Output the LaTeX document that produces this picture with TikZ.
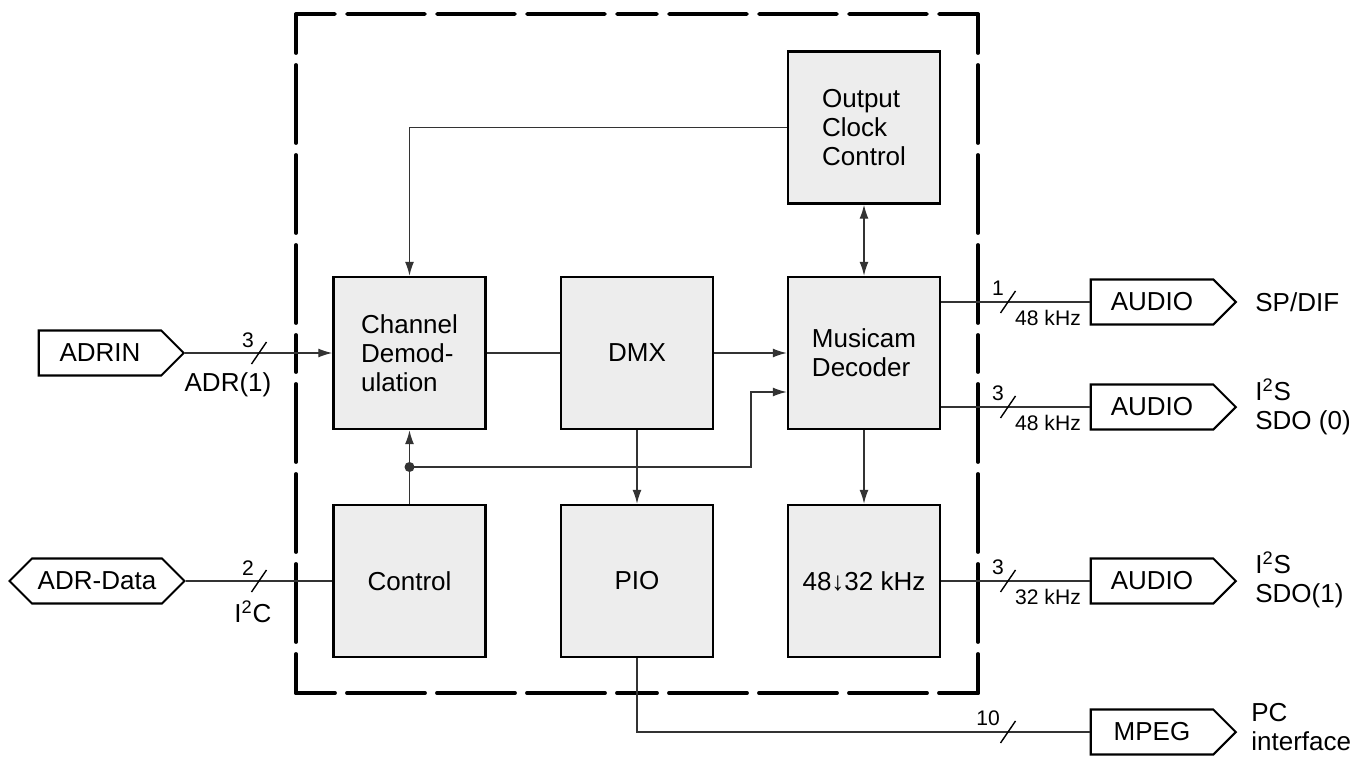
\documentclass[tikz,border=0pt]{standalone}
\usepackage{fontspec}
\setmainfont{Liberation Sans}
\usetikzlibrary{shapes.symbols,arrows.meta,calc}

\begin{document}
\begin{tikzpicture}[font=\fontsize{14.8}{16.5}\selectfont,
  box/.style={draw=black,line width=1.4pt,fill=black!7,align=left,minimum width=3.04cm,minimum height=3.04cm},
  port/.style={signal,signal to=east,signal pointer angle=90,draw=black,line width=1.2pt,minimum height=0.9cm,minimum width=2.9cm,inner sep=0pt},
  link/.style={black!80,line width=0.8pt},
  flow/.style={link,-{Latex[length=0.28cm,width=0.18cm]}},
  duplex/.style={link,{Latex[length=0.28cm,width=0.18cm]}-{Latex[length=0.28cm,width=0.18cm]}},
  frame/.style={line width=2.2pt,line cap=round,dash pattern=on 1.56cm off 0.24cm,dash phase=0.78cm},
  slash/.style={line width=0.8pt},
  num/.style={font=\fontsize{12}{14}\selectfont,inner sep=0pt},
  lab/.style={align=left,anchor=west,inner sep=0pt}]
\useasboundingbox (0,0) rectangle (27.24,15.14);

% chip boundary, each side drawn from its corners inwards
\coordinate (f1) at (5.92,14.86); \coordinate (f2) at (19.56,14.86);
\coordinate (f3) at (19.56,1.28); \coordinate (f4) at (5.92,1.28);
\foreach \a/\b in {f1/f2,f2/f3,f3/f4,f4/f1} {
  \draw[frame] (\a) -- ($(\a)!0.5!(\b)$);
  \draw[frame] (\b) -- ($(\a)!0.5!(\b)$);
}

% blocks
\node[box] (occ) at (17.28,12.59) {Output\\Clock\\Control};
\node[box] (cd) at (8.19,8.08) {Channel\\Demod-\\ulation};
\node[box,align=center] (dmx) at (12.74,8.08) {DMX};
\node[box] (mus) at (17.28,8.08) {Musicam\\Decoder};
\node[box,align=center] (ctl) at (8.19,3.52) {Control};
\node[box,align=center] (pio) at (12.74,3.52) {PIO};
\node[box,align=center] (rate) at (17.28,3.52) {48↓32 kHz};

% ports
\node[port] (adrin) at (2.0,8.08) {ADRIN};
\node[port,signal to=east and west,minimum width=3.5cm] (adrdata) at (1.94,3.52) {ADR-Data};
\node[port] (aud1) at (23.04,9.10) {AUDIO};
\node[port] (aud2) at (23.04,7.00) {AUDIO};
\node[port] (aud3) at (23.04,3.52) {AUDIO};
\node[port] (mpeg) at (23.04,0.50) {MPEG};

% internal paths
\coordinate (jn) at (8.19,5.80); \coordinate (m2) at ($(mus.west)+(0,-0.78)$);
\draw[flow] (occ.west) -| (cd.north);
\draw[duplex] (occ.south) -- (mus.north);
\draw[link] (cd.east) -- (dmx.west);
\draw[flow] (dmx.east) -- (mus.west);
\draw[flow] (ctl.north) -- (cd.south);
\draw[flow] (jn) -- (15.02,5.80) |- (m2);
\fill[black!80] (jn) circle (0.1);
\draw[flow] (dmx.south) -- (pio.north);
\draw[flow] (mus.south) -- (rate.north);

% external buses
\draw[flow] (adrin.east) -- (cd.west);
\draw[link] (adrdata.east) -- (ctl.west);
\draw[link] (aud1.west -| mus.east) -- (aud1.west);
\draw[link] (aud2.west -| mus.east) -- (aud2.west);
\draw[link] (rate.east) -- (aud3.west);
\draw[link] (pio.south) |- (mpeg.west);
\coordinate (s1) at (5.18,8.08); \coordinate (s2) at (5.18,3.52);
\coordinate (s3) at (20.16,9.10); \coordinate (s4) at (20.16,7.00);
\coordinate (s5) at (20.16,3.52); \coordinate (s6) at (20.16,0.50);
\foreach \s in {s1,s2,s3,s4,s5,s6}
  \draw[slash] ($(\s)+(-0.15,-0.22)$) -- ($(\s)+(0.15,0.22)$);
\node[num] (w1) at (4.96,8.34) {3};
\node[inner sep=0pt] (adr) at (4.56,7.44) {ADR(1)};
\node[num] (w2) at (4.96,3.78) {2};
\node[inner sep=0pt] (iic) at (5.06,2.90) {I\textsuperscript{2}C};
\node[num] (w3) at (19.96,9.38) {1};
\node[num] (r1) at (20.96,8.78) {48 kHz};
\node[num] (w4) at (19.96,7.28) {3};
\node[num] (r2) at (20.96,6.68) {48 kHz};
\node[num] (w5) at (19.96,3.80) {3};
\node[num] (r3) at (20.96,3.20) {32 kHz};
\node[num] (w6) at (19.76,0.78) {10};

% pin names
\node[lab] (spdif) at (25.1,9.10) {SP/DIF};
\node[lab] (sdo0) at (25.1,7.00) {I\textsuperscript{2}S\\SDO (0)};
\node[lab] (sdo1) at (25.1,3.54) {I\textsuperscript{2}S\\SDO(1)};
\node[lab] (pc) at (25.02,0.60) {PC\\interface};
\end{tikzpicture}
\end{document}
